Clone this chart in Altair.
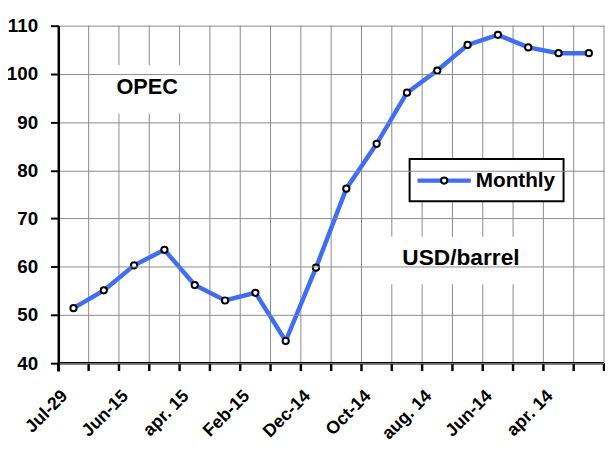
import altair as alt
import pandas as pd

# Data
values = [51.4, 55.1, 60.3, 63.5, 56.2, 53.0, 54.6, 44.6, 59.8,
          76.2, 85.5, 96.1, 100.7, 106.0, 108.1, 105.5, 104.3, 104.3]
tick_labels = ["Jul-29", "Jun-15", "apr. 15", "Feb-15", "Dec-14",
               "Oct-14", "aug. 14", "Jun-14", "apr. 14"]
y_ticks = [40, 50, 60, 70, 80, 90, 100, 110]
series_name = "Monthly"

n = len(values)
df = pd.DataFrame({"pos": [i + 0.5 for i in range(n)], "price": values})
grid_df = pd.DataFrame({"g": list(range(0, n + 1))})

W, H0, TICK = 553, 342, 8
H = H0 + TICK
YMIN, YMAX = y_ticks[0], y_ticks[-1]
ybottom = YMIN - TICK * (YMAX - YMIN) / H0
FONT = "Liberation Sans"
BLUE = "#3f6ef5"
GRID = "#8a8a8a"

arr = "[" + ",".join("'" + s + "'" for s in tick_labels) + "]"
label_expr = f"(datum.value % 2 == 0 && datum.value < {2*len(tick_labels)}) ? {arr}[datum.value/2] : ''"

xscale = alt.Scale(domain=[0, n], nice=False, zero=False)
yscale = alt.Scale(domain=[ybottom, YMAX], nice=False, zero=False)
x = alt.X("pos:Q", scale=xscale,
          axis=alt.Axis(values=list(range(0, n + 1, 2)), labelExpr=label_expr,
                        title=None, grid=False, ticks=False, domain=False,
                        labelAngle=-45, labelAlign="right",
                        labelBaseline="top", labelPadding=16, labelFont=FONT,
                        labelFontSize=18, labelFontWeight="bold", labelColor="black",
                        labelOverlap=False, labelFlush=False, zindex=2))
y = alt.Y("price:Q", scale=yscale,
          axis=alt.Axis(values=y_ticks, title=None, grid=True, gridColor=GRID,
                        gridWidth=1, domainColor="black", domainWidth=2.5,
                        tickColor="black", tickWidth=2, tickSize=8, labelPadding=13,
                        labelFont=FONT, labelFontSize=19, labelFontWeight="bold",
                        labelColor="black", zindex=2))

vgrid = alt.Chart(grid_df).mark_rule(color=GRID, strokeWidth=1).encode(
    x=alt.X("g:Q", scale=xscale), y=alt.datum(YMIN, scale=yscale),
    y2=alt.datum(YMAX))
xticks = alt.Chart(grid_df).mark_rule(color="black", strokeWidth=2.5).encode(
    x=alt.X("g:Q", scale=xscale), y=alt.datum(YMIN), y2=alt.datum(ybottom))
xdomain = alt.Chart(alt.Data(values=[{"a": 1}])).mark_rule(
    color="black", strokeWidth=2.5).encode(
    x=alt.datum(0), x2=alt.datum(n), y=alt.datum(YMIN))

base = alt.Chart(df)
line = base.mark_line(color=BLUE, strokeWidth=4.5).encode(x=x, y=y)
pts = base.mark_point(shape="circle", filled=True, fill="white", stroke="black",
                      strokeWidth=2, size=40, opacity=1).encode(x="pos:Q", y="price:Q")

one = alt.Data(values=[{"a": 1}])

def box(x1, x2, y1, y2, stroke=None):
    kw = dict(fill="white")
    if stroke:
        kw.update(stroke=stroke, strokeWidth=2)
    return alt.Chart(one).mark_rect(**kw).encode(
        x=alt.value(x1), x2=alt.value(x2), y=alt.value(y1), y2=alt.value(y2))

def label(txt, px, py, size, weight="normal", align="center"):
    return alt.Chart(one).mark_text(text=txt, font=FONT, fontSize=size,
                                    fontWeight=weight, color="black", align=align,
                                    baseline="middle").encode(
        x=alt.value(px), y=alt.value(py))

opec_box = box(49, 131, 40, 89)
opec_txt = label("OPEC", 90, 62, 22, weight="bold")
usd_box = box(336, 479, 214, 262)
usd_txt = label("USD/barrel", 408, 236, 23, weight="bold")
leg_box = box(356, 512, 135, 178, stroke="black")
leg_line = alt.Chart(one).mark_rule(color=BLUE, strokeWidth=4.5).encode(
    x=alt.value(364), x2=alt.value(418), y=alt.value(157))
leg_pt = alt.Chart(one).mark_point(shape="circle", filled=True, fill="white",
                                   stroke="black", strokeWidth=2, size=40,
                                   opacity=1).encode(x=alt.value(391), y=alt.value(157))
leg_txt = label(series_name, 423, 157, 21, weight="bold", align="left")

chart = alt.layer(vgrid, opec_box, usd_box, line, pts, opec_txt, usd_txt,
                  leg_box, leg_line, leg_pt, leg_txt, xticks, xdomain).properties(
    width=W, height=H,
    autosize=alt.AutoSizeParams(type="none"),
    padding={"left": 51, "top": 15, "right": 1, "bottom": 72},
    background="white",
).configure_view(strokeWidth=0)

chart.save("out.html", embed_options={"renderer": "svg", "actions": False})
